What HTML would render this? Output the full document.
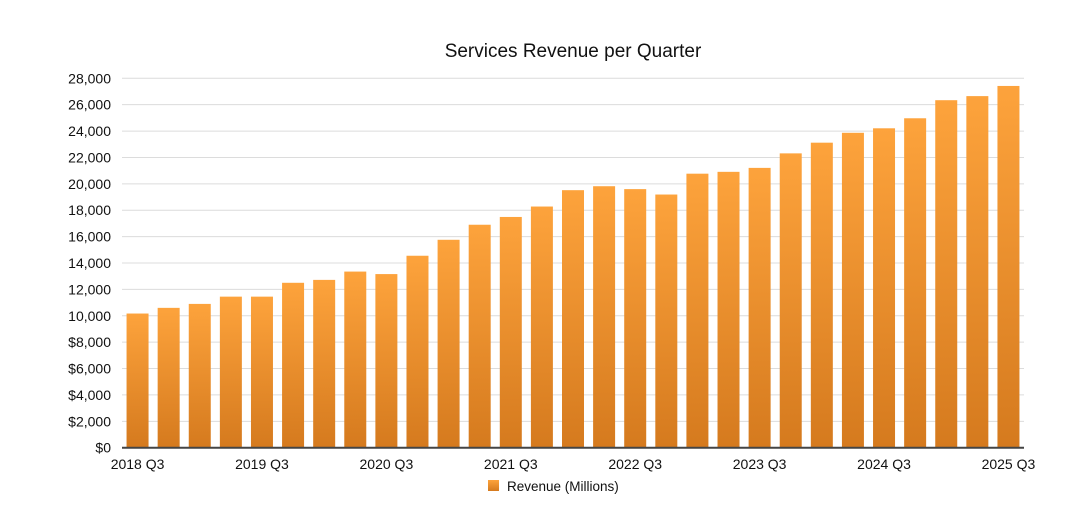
<!DOCTYPE html>
<html><head><meta charset="utf-8"><style>
body{margin:0;background:#fff;font-family:"Liberation Sans",Helvetica,Arial,sans-serif;}
svg text{font-family:"Liberation Sans",Helvetica,Arial,sans-serif;fill:#111;}
</style></head><body>
<svg id="chart" width="1073" height="524">
<defs><linearGradient id="g" x1="0" y1="0" x2="0" y2="1"><stop offset="0" stop-color="#fda33c"/><stop offset="1" stop-color="#d57a1e"/></linearGradient></defs>
<text x="573" y="57" text-anchor="middle" font-size="19">Services Revenue per Quarter</text>
<g id="grid"></g><g id="bars"></g><g id="xl"></g><g id="yl"></g>
<g>
<rect x="488" y="480" width="11" height="11" fill="url(#g)"/>
<text x="507" y="491" font-size="13.5">Revenue (Millions)</text>
</g>
</svg>
<script>
const categories=["2018 Q3","2018 Q4","2019 Q1","2019 Q2","2019 Q3","2019 Q4","2020 Q1","2020 Q2","2020 Q3","2020 Q4","2021 Q1","2021 Q2","2021 Q3","2021 Q4","2022 Q1","2022 Q2","2022 Q3","2022 Q4","2023 Q1","2023 Q2","2023 Q3","2023 Q4","2024 Q1","2024 Q2","2024 Q3","2024 Q4","2025 Q1","2025 Q2","2025 Q3"];
const revenue=[10170,10600,10900,11450,11450,12500,12720,13350,13160,14550,15760,16900,17490,18280,19520,19820,19600,19190,20770,20910,21210,22310,23120,23870,24210,24970,26340,26650,27420];
const yTicks=[0,2000,4000,6000,8000,10000,12000,14000,16000,18000,20000,22000,24000,26000,28000];
const xLabelIdx=[0,4,8,12,16,20,24,28];
const NS="http://www.w3.org/2000/svg";
const L=122,R=1024,T=78.3,B=447.7,YMAX=28000;
const y=v=>B-(v/YMAX)*(B-T);
const bw=(R-L)/categories.length;
const x=i=>L+bw*i+bw/2;
function mk(t,a,p){const e=document.createElementNS(NS,t);for(const k in a)e.setAttribute(k,a[k]);p.appendChild(e);return e;}
const grid=document.getElementById('grid'),yl=document.getElementById('yl'),bars=document.getElementById('bars'),xl=document.getElementById('xl');
yTicks.forEach(v=>{
 if(v>0){const g=mk('line',{x1:L,x2:R,y1:y(v),y2:y(v),stroke:'#dcdcdc','stroke-width':1},grid);
 
 }
 const t=mk('text',{x:111,y:y(v)+5,'text-anchor':'end','font-size':'14'},yl);
 t.textContent=(v<10000?'$':'')+(v===0?'$0'.slice(1):v.toLocaleString('en-US'));
 if(v===0)t.textContent='$0';
 
 
});
revenue.forEach((v,i)=>{
 const r=mk('rect',{x:x(i)-11,y:y(v),width:22,height:B-y(v),fill:'url(#g)'},bars);
 
 
});
const ax=mk('line',{x1:L,x2:R,y1:B,y2:B,stroke:'#444','stroke-width':2},bars);


xLabelIdx.forEach(i=>{
 const t=mk('text',{x:x(i),y:469,'text-anchor':'middle','font-size':'14'},xl);
 t.textContent=categories[i];
 
 
});
</script>
</body></html>
